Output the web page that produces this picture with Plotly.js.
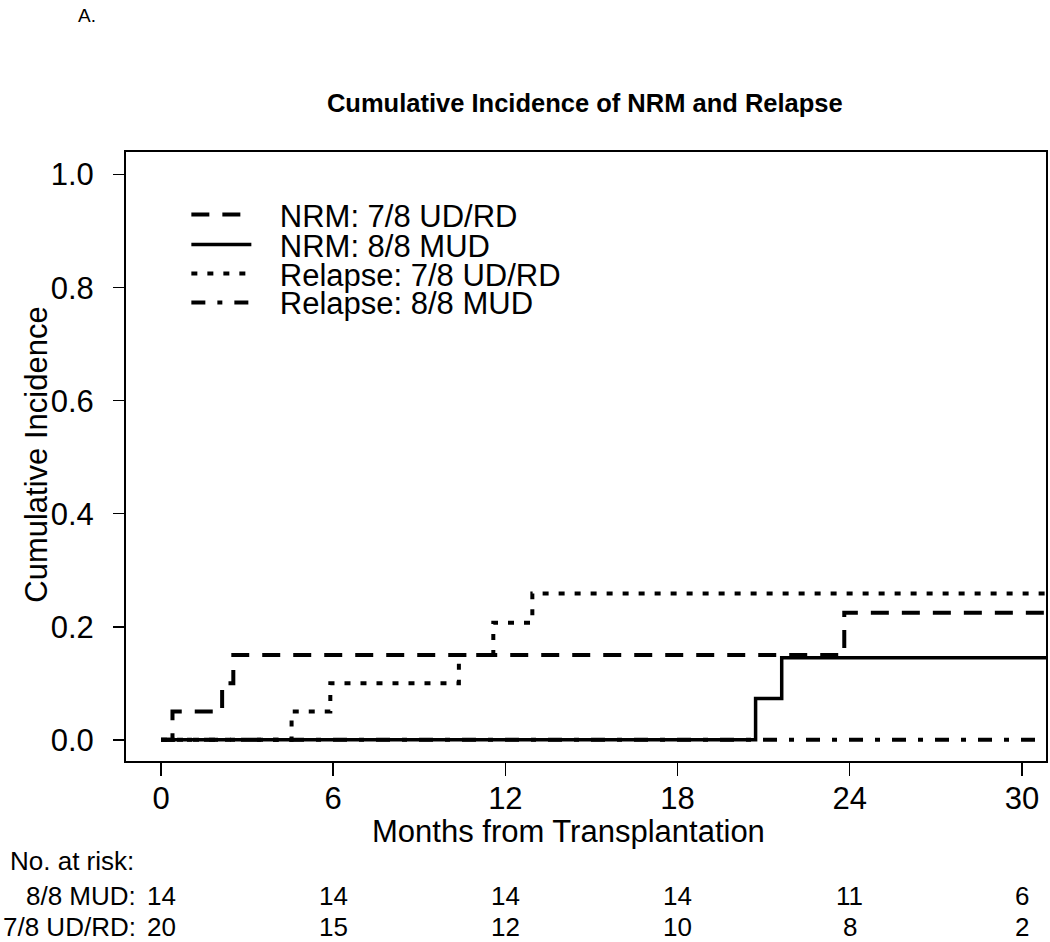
<!DOCTYPE html>
<html>
<head>
<meta charset="utf-8">
<script src="https://cdn.plot.ly/plotly-3.0.1.min.js"></script>
<style>html,body{margin:0;padding:0;background:#fff;}#chart{width:1050px;height:942px;}</style>
</head>
<body>
<div id="chart"></div>
<script>
// Step-function data (months, cumulative incidence)
var nrm78Months = [0, 0.40, 2.13, 2.52, 23.81, 31.5];
var nrm78Values = [0, 0.05, 0.10, 0.15, 0.225, 0.225];

var nrm88Months = [0, 20.72, 21.63, 31.5];
var nrm88Values = [0, 0.073, 0.145, 0.145];

var rel78Months = [0, 4.55, 5.90, 10.38, 11.58, 12.94, 31.5];
var rel78Values = [0, 0.05, 0.10, 0.15, 0.207, 0.259, 0.259];

var rel88Months = [0, 31.5];
var rel88Values = [0, 0];

var seriesNames = ['NRM: 7/8 UD/RD', 'NRM: 8/8 MUD', 'Relapse: 7/8 UD/RD', 'Relapse: 8/8 MUD'];

// Number at risk table
var riskMonths = [0, 6, 12, 18, 24, 30];
var riskGroups = ['8/8 MUD:', '7/8 UD/RD:'];
var risk88 = [14, 14, 14, 14, 11, 6];
var risk78 = [20, 15, 12, 10, 8, 2];

var xTicks = [0, 6, 12, 18, 24, 30];
var yTicks = [0, 0.2, 0.4, 0.6, 0.8, 1.0];

var FONT = 'Arial, "Liberation Sans", sans-serif';
var GAP = '\u00a0\u00a0\u2009';

function trace(x, y, name, dash, width, legendId) {
  return {
    x: x, y: y, name: GAP + name, type: 'scatter', mode: 'lines',
    line: {shape: 'hv', color: '#000', width: width, dash: dash},
    legend: legendId, hoverinfo: 'skip'
  };
}

var traces = [
  trace(rel88Months, rel88Values, seriesNames[3], '14px,12px,5px,12px', 4, 'legend4'),
  trace(rel78Months, rel78Values, seriesNames[2], '6px,10px', 4, 'legend3'),
  trace(nrm78Months, nrm78Values, seriesNames[0], '18px,13px', 4, 'legend'),
  trace(nrm88Months, nrm88Values, seriesNames[1], 'solid', 3.5, 'legend2')
];

function legendAt(y) {
  return {x: 0.0656, y: y, xanchor: 'left', yanchor: 'middle', bgcolor: 'rgba(0,0,0,0)',
          borderwidth: 0, itemwidth: 60, font: {family: FONT, size: 31, color: '#000'}};
}

var annotations = [];
// axis titles
annotations.push({text: 'Months from Transplantation', xref: 'paper', yref: 'paper',
  x: 0.4815, y: -0.1165, xanchor: 'center', yanchor: 'middle', showarrow: false,
  font: {family: FONT, size: 31, color: '#000'}});
annotations.push({text: 'Cumulative Incidence', xref: 'paper', yref: 'paper',
  x: -0.0967, y: 0.503, xanchor: 'center', yanchor: 'middle', textangle: -90, showarrow: false,
  font: {family: FONT, size: 31, color: '#000'}});
// panel label
annotations.push({text: 'A.', xref: 'paper', yref: 'paper', x: -0.054, y: 1.2245,
  xanchor: 'left', yanchor: 'middle', showarrow: false,
  font: {family: FONT, size: 19, color: '#000'}});
// at risk table
var TFONT = {family: FONT, size: 26, color: '#000'};
annotations.push({text: 'No. at risk:', xref: 'paper', yref: 'paper', x: -0.128, y: -0.164,
  xanchor: 'left', yanchor: 'middle', showarrow: false, font: TFONT});
var rowY = [-0.2213, -0.2721];
var rowVals = [risk88, risk78];
for (var r = 0; r < 2; r++) {
  annotations.push({text: riskGroups[r], xref: 'paper', yref: 'paper', x: 0.0135, y: rowY[r],
    xanchor: 'right', yanchor: 'middle', showarrow: false, font: TFONT});
  for (var i = 0; i < riskMonths.length; i++) {
    annotations.push({text: String(rowVals[r][i]), xref: 'x', yref: 'paper', x: riskMonths[i], y: rowY[r],
      xanchor: 'center', yanchor: 'middle', showarrow: false, font: TFONT});
  }
}

var layout = {
  width: 1050, height: 942,
  margin: {l: 126, r: 4, t: 152, b: 181},
  paper_bgcolor: '#fff', plot_bgcolor: '#fff',
  title: {text: '<b>Cumulative Incidence of NRM and Relapse</b>', xref: 'container', yref: 'container',
          x: 0.557, y: 0.8907, xanchor: 'center', yanchor: 'middle',
          font: {family: FONT, size: 25.5, color: '#000'}},
  showlegend: true,
  legend: legendAt(0.8967),
  legend2: legendAt(0.8475),
  legend3: legendAt(0.80),
  legend4: legendAt(0.7525),
  xaxis: {range: [-1.22, 30.84], tickvals: xTicks, ticks: 'outside', ticklen: 13, tickwidth: 1.5,
          tickcolor: '#000', showgrid: false, zeroline: false, showline: true, mirror: true,
          linecolor: '#000', linewidth: 2, ticklabelstandoff: -4,
          tickfont: {family: FONT, size: 31, color: '#000'}},
  yaxis: {range: [-0.0375, 1.04], tickvals: yTicks, tickformat: '.1f', ticks: 'outside', ticklen: 11,
          tickwidth: 1.5, tickcolor: '#000', showgrid: false, zeroline: false, showline: true,
          mirror: true, linecolor: '#000', linewidth: 2, ticklabelstandoff: 13,
          tickfont: {family: FONT, size: 31, color: '#000'}},
  annotations: annotations
};

Plotly.newPlot('chart', traces, layout, {staticPlot: true, displayModeBar: false});
</script>
</body>
</html>
